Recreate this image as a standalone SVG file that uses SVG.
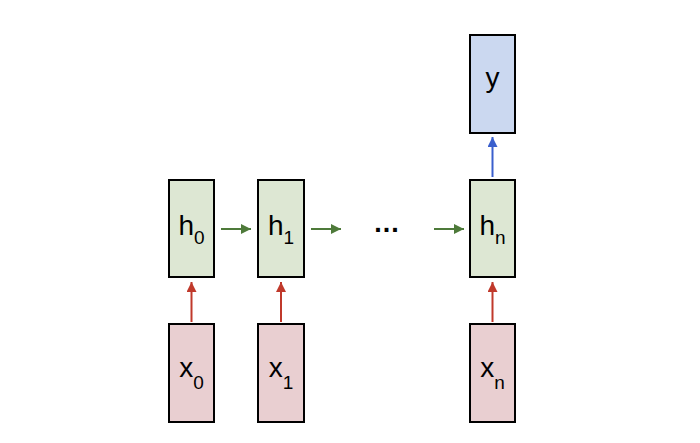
<svg xmlns="http://www.w3.org/2000/svg" width="700" height="443" viewBox="0 0 700 443">
<defs>
<style>
.box{stroke:#000;stroke-width:2}
.h{fill:#dde7d3}
.x{fill:#e9cfd1}
.y{fill:#cbd8f0}
.lbl{font-family:"Liberation Sans",Arial,sans-serif;font-size:28px;fill:#000;text-anchor:middle}
.sub{font-size:19px}
.g{stroke:#4e7a3a;stroke-width:2;fill:none}
.r{stroke:#c0392b;stroke-width:2;fill:none}
.b{stroke:#3a5fcd;stroke-width:2;fill:none}
</style>
<marker id="mg" viewBox="0 0 10 10" refX="10" refY="5" markerWidth="5" markerHeight="5" orient="auto" markerUnits="strokeWidth"><path d="M0,0L10,5L0,10z" fill="#4e7a3a"/></marker>
<marker id="mr" viewBox="0 0 10 10" refX="10" refY="5" markerWidth="5" markerHeight="5" orient="auto" markerUnits="strokeWidth"><path d="M0,0L10,5L0,10z" fill="#c0392b"/></marker>
<marker id="mb" viewBox="0 0 10 10" refX="10" refY="5" markerWidth="5" markerHeight="5" orient="auto" markerUnits="strokeWidth"><path d="M0,0L10,5L0,10z" fill="#3a5fcd"/></marker>
</defs>
<rect width="700" height="443" fill="#fff"/>
<g id="connectors">
<line class="g" x1="221" y1="229" x2="251" y2="229" marker-end="url(#mg)"/>
<line class="g" x1="311" y1="229" x2="341" y2="229" marker-end="url(#mg)"/>
<line class="g" x1="434" y1="229" x2="464" y2="229" marker-end="url(#mg)"/>
<line class="r" x1="191.5" y1="322" x2="191.5" y2="282" marker-end="url(#mr)"/>
<line class="r" x1="281" y1="322" x2="281" y2="282" marker-end="url(#mr)"/>
<line class="r" x1="492.5" y1="322" x2="492.5" y2="282" marker-end="url(#mr)"/>
<line class="b" x1="492.5" y1="177" x2="492.5" y2="137" marker-end="url(#mb)"/>
</g>
<g id="h0"><rect class="box h" x="169" y="180" width="45" height="97"/><text class="lbl" x="191.5" y="235">h<tspan class="sub" dy="9">0</tspan></text></g>
<g id="h1"><rect class="box h" x="258" y="180" width="46" height="97"/><text class="lbl" x="281" y="235">h<tspan class="sub" dy="9">1</tspan></text></g>
<g id="hn"><rect class="box h" x="470" y="180" width="45" height="97"/><text class="lbl" x="492.5" y="235">h<tspan class="sub" dy="9">n</tspan></text></g>
<g id="x0"><rect class="box x" x="169" y="324" width="45" height="98"/><text class="lbl" x="191.5" y="377">x<tspan class="sub" dy="12">0</tspan></text></g>
<g id="x1"><rect class="box x" x="258" y="324" width="46" height="98"/><text class="lbl" x="281" y="377">x<tspan class="sub" dy="12">1</tspan></text></g>
<g id="xn"><rect class="box x" x="470" y="324" width="45" height="98"/><text class="lbl" x="492.5" y="377">x<tspan class="sub" dy="12">n</tspan></text></g>
<g id="y"><rect class="box y" x="470" y="35" width="45" height="98"/><text class="lbl" x="492.5" y="87">y</text></g>
<g id="dots"><text class="lbl" x="387" y="232" style="font-size:27px;font-weight:bold;letter-spacing:1px">...</text></g>
</svg>
